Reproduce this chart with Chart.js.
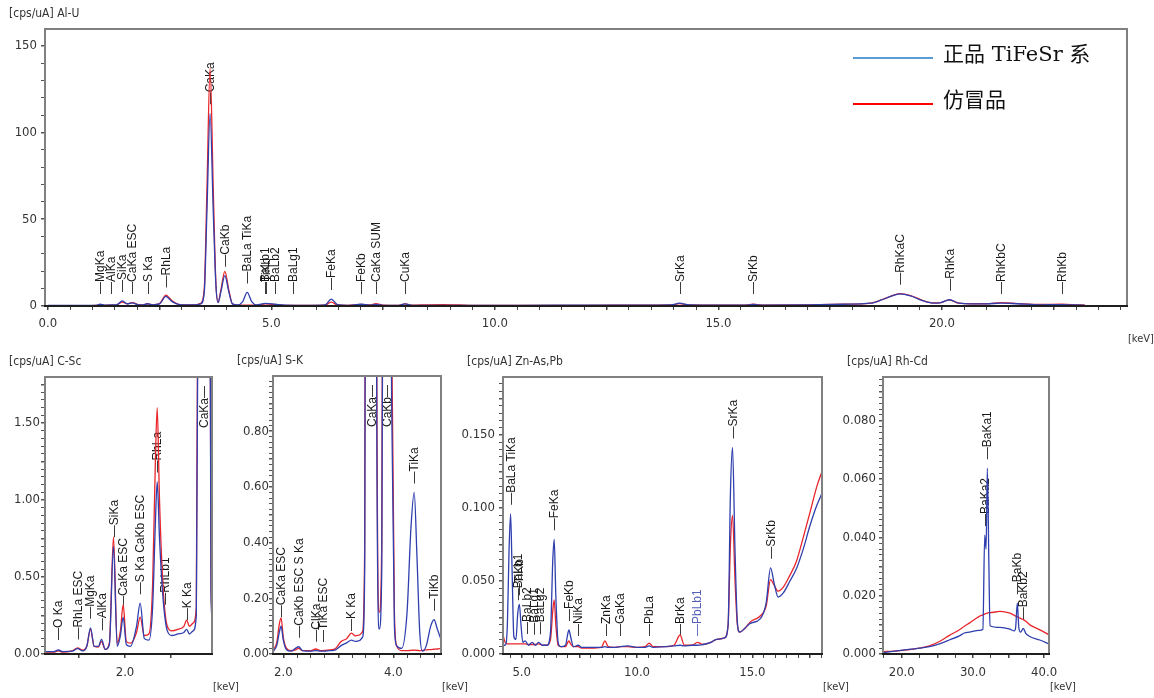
<!DOCTYPE html>
<html><head><meta charset="utf-8">
<script src="https://cdn.jsdelivr.net/npm/chart.js@4.4.1/dist/chart.umd.min.js"></script>
<style>
html,body{margin:0;padding:0;background:#fff;width:1154px;height:698px;overflow:hidden;position:relative;}
canvas{position:absolute;}
</style></head><body>
<script>
// ---------------- DATA ----------------
const seriesNames = ['正品 TiFeSr 系', '仿冒品'];
const panelTitles = ['[cps/uA] Al-U', '[cps/uA] C-Sc', '[cps/uA] S-K', '[cps/uA] Zn-As,Pb', '[cps/uA] Rh-Cd'];
const unitLabel = '[keV]';

// Al-U (overview)
const alEnergy = [0.00,0.50,0.95,1.08,1.17,1.27,1.41,1.53,1.67,1.78,1.89,2.02,2.12,2.23,2.35,2.50,2.64,2.78,2.92,3.10,3.30,3.42,3.50,3.56,3.63,3.70,3.76,3.81,3.87,3.96,4.05,4.13,4.25,4.36,4.46,4.56,4.67,4.87,5.09,5.30,5.90,6.20,6.34,6.48,6.70,7.01,7.20,7.34,7.50,7.85,7.99,8.15,8.50,8.85,9.20,9.50,10.50,12.00,13.50,13.95,14.13,14.35,15.00,15.60,15.78,15.98,17.00,17.80,18.40,18.65,18.85,19.06,19.30,19.55,19.80,19.98,20.17,20.38,20.70,21.00,21.32,21.70,22.20,22.68,23.00,23.20];
const alBlue = [0.3,0.3,0.35,0.4,1.0,0.45,0.6,0.6,2.9,1.2,1.8,0.7,0.6,1.3,0.7,1.2,5.5,2.5,0.9,0.6,0.6,1.2,8,55,111,55,12,2,8,17.5,8,1.2,0.6,2.5,7.8,2.5,0.6,1.5,1.0,0.5,0.4,0.6,4.0,0.8,0.4,1.0,0.5,0.9,0.4,0.4,1.2,0.4,0.3,0.4,0.3,0.4,0.4,0.45,0.5,0.6,1.6,0.6,0.5,0.5,0.9,0.5,0.6,1.0,1.6,3.5,5.5,7.0,5.8,3.2,1.7,2.0,3.6,1.6,1.2,1.2,1.7,1.3,0.7,0.8,0.6,0.4];
const alRed = [0.2,0.2,0.25,0.3,0.8,0.4,0.55,0.5,2.3,1.2,2.0,0.8,0.6,1.3,0.7,1.4,6.3,3.0,1.0,0.6,0.6,1.5,10,68,137,68,13,2.3,9,20,9,1.2,0.5,0.5,0.5,0.5,0.5,1.2,0.8,0.4,0.35,0.5,2.2,0.6,0.35,0.9,0.6,1.3,0.5,0.4,1.2,0.5,0.7,0.8,0.6,0.3,0.35,0.4,0.5,0.6,1.4,0.6,0.5,0.5,1.0,0.5,0.6,1.0,1.7,3.6,5.6,7.1,6.0,3.4,1.8,2.0,3.5,1.6,1.3,1.3,1.9,1.4,0.9,1.0,0.7,0.5];
const alPeakNames = ['MgKa','AlKa','SiKa','CaKa ESC','S Ka','RhLa','CaKa','CaKb','BaLa TiKa','BaLb1','TiKb','BaLb2','BaLg1','FeKa','FeKb','CaKa SUM','CuKa','SrKa','SrKb','RhKaC','RhKa','RhKbC','RhKb'];
const alPeakEnergy = [1.17,1.41,1.67,1.89,2.23,2.64,3.63,3.96,4.46,4.85,4.88,5.09,5.49,6.34,7.01,7.34,7.99,14.13,15.78,19.06,20.17,21.32,22.68];

// C-Sc
const cscEnergy = [0.26,0.45,0.55,0.65,0.85,0.97,1.08,1.17,1.25,1.33,1.42,1.49,1.57,1.66,1.75,1.83,1.90,1.96,2.03,2.12,2.25,2.33,2.42,2.52,2.60,2.66,2.70,2.75,2.83,2.92,3.02,3.15,3.28,3.34,3.40,3.48,3.55,3.60,3.66,3.72,3.78,3.84,3.87,3.89];
const cscBlue = [0.015,0.015,0.026,0.015,0.018,0.035,0.02,0.05,0.17,0.05,0.05,0.095,0.03,0.06,0.70,0.05,0.12,0.24,0.06,0.05,0.18,0.33,0.10,0.09,0.30,0.85,1.12,0.75,0.35,0.15,0.12,0.13,0.14,0.16,0.13,0.15,0.25,3.0,15,20,12,3.0,0.4,0.24];
const cscRed = [0.012,0.012,0.02,0.012,0.02,0.04,0.025,0.05,0.16,0.05,0.045,0.08,0.03,0.07,0.76,0.07,0.15,0.32,0.08,0.07,0.14,0.24,0.12,0.13,0.45,1.25,1.60,1.00,0.42,0.18,0.15,0.16,0.18,0.22,0.18,0.20,0.30,3.5,18,24,14,3.5,0.45,0.28];
const cscPeakNames = ['O Ka','RhLa ESC','MgKa','AlKa','SiKa','CaKa ESC','S Ka CaKb ESC','RhLa','RhLb1','K Ka','CaKa'];
const cscPeakEnergy = [0.55,0.97,1.25,1.49,1.75,1.96,2.33,2.70,2.87,3.34,3.72];

// S-K
const skEnergy = [1.81,1.88,1.93,1.96,2.00,2.06,2.14,2.22,2.28,2.35,2.50,2.59,2.68,2.85,2.95,3.05,3.15,3.24,3.31,3.38,3.44,3.48,3.52,3.60,3.66,3.70,3.745,3.79,3.83,3.90,3.97,4.02,4.06,4.15,4.25,4.32,4.38,4.43,4.48,4.53,4.60,4.68,4.74,4.80,4.87];
const skBlue = [0.008,0.03,0.08,0.10,0.05,0.015,0.01,0.02,0.026,0.012,0.01,0.012,0.01,0.012,0.015,0.03,0.04,0.05,0.045,0.048,0.06,0.3,4,9,4,0.8,0.09,0.3,2.5,2.8,0.9,0.1,0.03,0.02,0.15,0.45,0.58,0.35,0.08,0.01,0.03,0.10,0.123,0.09,0.05];
const skRed = [0.014,0.04,0.11,0.13,0.06,0.02,0.012,0.015,0.02,0.012,0.012,0.018,0.012,0.015,0.02,0.045,0.055,0.075,0.065,0.068,0.08,0.4,5,11,5,1.0,0.15,0.4,3,3.3,1.2,0.15,0.03,0.012,0.012,0.013,0.014,0.013,0.012,0.013,0.015,0.016,0.017,0.018,0.02];
const skPeakNames = ['CaKa ESC','CaKb ESC S Ka','ClKa','TiKa ESC','K Ka','CaKa','CaKb','TiKa','TiKb'];
const skPeakEnergy = [1.96,2.28,2.59,2.72,3.24,3.61,3.89,4.38,4.74];

// Zn-As,Pb
const znEnergy = [4.19,4.28,4.38,4.45,4.52,4.58,4.66,4.75,4.83,4.90,4.97,5.05,5.15,5.30,5.46,5.60,5.73,5.90,6.10,6.25,6.35,6.41,6.48,6.58,6.70,6.90,7.00,7.05,7.12,7.25,7.45,7.60,8.00,8.45,8.61,8.75,9.00,9.26,9.60,10.00,10.35,10.53,10.70,11.20,11.60,11.87,12.05,12.40,12.62,12.85,13.20,13.45,13.80,13.95,14.05,14.14,14.25,14.35,14.45,14.70,14.91,15.34,15.60,15.79,15.95,16.12,16.35,16.63,16.90,17.21,17.50,17.80,18.02];
const znBlue = [0.006,0.006,0.02,0.07,0.096,0.06,0.012,0.01,0.028,0.034,0.02,0.008,0.009,0.006,0.008,0.006,0.008,0.006,0.006,0.015,0.065,0.0785,0.04,0.008,0.005,0.006,0.014,0.0165,0.012,0.005,0.006,0.0045,0.0045,0.0045,0.005,0.0045,0.0045,0.005,0.0055,0.0045,0.0045,0.0055,0.0045,0.005,0.0055,0.006,0.0055,0.006,0.006,0.0065,0.008,0.010,0.011,0.02,0.11,0.1415,0.07,0.022,0.015,0.018,0.021,0.024,0.035,0.059,0.048,0.039,0.042,0.050,0.058,0.072,0.088,0.102,0.110];
const znRed = [0.013,0.008,0.007,0.007,0.007,0.007,0.007,0.007,0.007,0.007,0.007,0.007,0.007,0.0065,0.0065,0.0065,0.007,0.006,0.006,0.01,0.03,0.037,0.02,0.006,0.005,0.005,0.008,0.009,0.007,0.005,0.005,0.004,0.004,0.0045,0.009,0.005,0.0045,0.005,0.005,0.0045,0.005,0.0075,0.005,0.005,0.006,0.013,0.006,0.006,0.008,0.0065,0.008,0.010,0.011,0.02,0.075,0.095,0.05,0.02,0.015,0.018,0.022,0.026,0.033,0.051,0.047,0.043,0.046,0.054,0.063,0.080,0.097,0.115,0.125];
const znPeakNames = ['BaLa TiKa','BaLb1','TiKb','BaLb2','BaLg1','BaLg2','FeKa','FeKb','NiKa','ZnKa','GaKa','PbLa','BrKa','PbLb1','SrKa','SrKb'];
const znPeakEnergy = [4.52,4.86,4.90,5.22,5.53,5.79,6.41,7.05,7.45,8.65,9.26,10.53,11.87,12.62,14.14,15.79];

// Rh-Cd
const rhEnergy = [17.37,19.0,20.7,22.5,23.9,25.3,26.7,28.1,28.8,29.5,30.9,31.4,31.66,31.85,32.03,32.25,32.4,33.8,35.2,35.8,36.0,36.24,36.45,36.7,37.08,37.4,38.0,39.4,40.69];
const rhBlue = [0.0005,0.001,0.0015,0.002,0.0025,0.0035,0.0048,0.0062,0.0072,0.0075,0.0081,0.0085,0.0408,0.036,0.0637,0.03,0.0097,0.0091,0.0085,0.0079,0.009,0.0174,0.009,0.0075,0.0088,0.0072,0.006,0.0048,0.0034];
const rhRed = [0.0008,0.001,0.0014,0.002,0.0028,0.0043,0.0064,0.0083,0.0095,0.0106,0.0129,0.0134,0.0137,0.0139,0.014,0.0142,0.0142,0.0146,0.014,0.0133,0.013,0.0128,0.0125,0.0122,0.0118,0.0113,0.01,0.0083,0.0066];
const rhPeakNames = ['BaKa2','BaKa1','BaKb','BaKb2'];
const rhPeakEnergy = [31.66,32.03,36.24,37.08];

// ---------------- STYLE / LAYOUT ----------------
const BLUE = '#2f3fae', RED = '#e8262b';
const LEG_BLUE = '#5b9bd5', LEG_RED = '#ff0000';
const NARROW = '"Liberation Sans Narrow","DejaVu Sans Condensed","Liberation Sans",sans-serif';
const LABELFONT = '12px "Liberation Sans", Arial, sans-serif';
const LEGFONT = '21px "DejaVu Serif","Liberation Serif","Noto Sans CJK SC",serif';
const specialLabelColor = {PbLb1: '#5560b8'};

const PANELS = [
  {title: panelTitles[0], energy: alEnergy, blue: alBlue, red: alRed, names: alPeakNames, pe: alPeakEnergy,
   canvas: [0, 0, 1154, 345], area: [45, 29, 1127, 306], xr: [-0.063, 24.14], yr: [0, 159.6],
   xStep: 0.5, xLab: 5, xDec: 1, yStep: 10, yLab: 50, yDec: 0, yPad: 4, xPad: 6, floor: 12, legend: true},
  {title: panelTitles[1], energy: cscEnergy, blue: cscBlue, red: cscRed, names: cscPeakNames, pe: cscPeakEnergy,
   canvas: [0, 345, 245, 353], area: [45, 377, 212, 654], xr: [0.261, 3.891], yr: [0, 1.799],
   xStep: 1, xLab: 2, xDec: 1, yStep: 0.05, yLab: 0.5, yDec: 2, yPad: 1, xPad: 7, floor: 14},
  {title: panelTitles[2], energy: skEnergy, blue: skBlue, red: skRed, names: skPeakNames, pe: skPeakEnergy,
   canvas: [230, 345, 245, 353], area: [273, 376, 441, 654], xr: [1.813, 4.867], yr: [0, 0.998],
   xStep: 0.25, xLab: 2, xDec: 1, yStep: 0.02, yLab: 0.2, yDec: 2, yPad: 0, xPad: 7, floor: 12},
  {title: panelTitles[3], energy: znEnergy, blue: znBlue, red: znRed, names: znPeakNames, pe: znPeakEnergy,
   canvas: [460, 345, 400, 353], area: [503, 377, 822, 654], xr: [4.19, 18.02], yr: [0, 0.1897],
   xStep: 0.5, xLab: 5, xDec: 1, yStep: 0.005, yLab: 0.05, yDec: 3, yPad: 4, xPad: 7, floor: 18},
  {title: panelTitles[4], energy: rhEnergy, blue: rhBlue, red: rhRed, names: rhPeakNames, pe: rhPeakEnergy,
   canvas: [840, 345, 314, 353], area: [883, 377, 1049, 654], xr: [17.37, 40.69], yr: [0, 0.095],
   xStep: 2.5, xLab: 10, xDec: 1, yStep: 0.002, yLab: 0.02, yDec: 3, yPad: 3, xPad: 7, floor: 12}
];

function isMult(v, s) { const r = v / s; return Math.abs(r - Math.round(r)) < 1e-6; }
function makeTicks(step) {
  return function (scale) {
    const t = [];
    for (let k = Math.ceil(scale.min / step - 1e-7); k * step <= scale.max + 1e-9; k++) {
      t.push({value: Math.round(k * step * 1e6) / 1e6});
    }
    scale.ticks = t;
  };
}
function interp(xs, ys, e) {
  if (e <= xs[0]) return ys[0];
  for (let i = 1; i < xs.length; i++) {
    if (e <= xs[i]) { const t = (e - xs[i - 1]) / (xs[i] - xs[i - 1]); return ys[i - 1] + t * (ys[i] - ys[i - 1]); }
  }
  return ys[ys.length - 1];
}

function decor(P) {
  return {
    id: 'decor',
    beforeDatasetsDraw(chart) {
      const {ctx, chartArea: a, scales: {x: xs, y: ys}} = chart;
      ctx.save();
      ctx.font = LABELFONT;
      ctx.textBaseline = 'middle';
      P.names.forEach((name, i) => {
        const e = P.pe[i];
        const px = xs.getPixelForValue(e);
        if (px < a.left || px > a.right) return;
        const v = interp(P.energy, P.blue, e);
        const py = ys.getPixelForValue(v);
        let txt = '\u2014' + name;
        const w = ctx.measureText(txt).width;
        let anchor = Math.min(py - 9, a.bottom - P.floor);
        let reversed = false;
        if (v > ys.max || anchor - w < a.top) { reversed = true; txt = name + '\u2014'; anchor = Math.max(py, a.top) + 9; }
        ctx.fillStyle = specialLabelColor[name] || '#1a1a1a';
        ctx.save();
        ctx.translate(Math.round(px) + 0.5, anchor);
        ctx.rotate(-Math.PI / 2);
        ctx.textAlign = reversed ? 'right' : 'left';
        ctx.fillText(txt, 0, 0);
        ctx.restore();
      });
      ctx.restore();
    },
    afterDraw(chart) {
      const {ctx, chartArea: a} = chart;
      ctx.save();
      ctx.strokeStyle = '#808080'; ctx.lineWidth = 2;
      ctx.strokeRect(a.left, a.top, a.right - a.left, a.bottom - a.top);
      ctx.strokeStyle = '#1e1e1e';
      ctx.beginPath(); ctx.moveTo(a.left - 1, a.bottom); ctx.lineTo(a.right + 1, a.bottom); ctx.stroke();
      ctx.fillStyle = '#333';
      ctx.font = '12px ' + NARROW;
      ctx.textBaseline = 'middle'; ctx.textAlign = 'left';
      ctx.fillText(P.title, a.left - 36, a.top - 15);
      ctx.font = '11px ' + NARROW;
      ctx.fillText(unitLabel, a.right + 1, a.bottom + 33);
      if (P.legend) {
        const x0 = a.right - 274, x1 = a.right - 194;
        const rows = [[LEG_BLUE, a.top + 29], [LEG_RED, a.top + 75]];
        rows.forEach(([c, y], i) => {
          ctx.strokeStyle = c; ctx.lineWidth = 2;
          ctx.beginPath(); ctx.moveTo(x0, y); ctx.lineTo(x1, y); ctx.stroke();
          ctx.fillStyle = '#111'; ctx.font = LEGFONT;
          ctx.fillText(seriesNames[i], x1 + 10, y - 2);
        });
      }
      ctx.restore();
    }
  };
}

PANELS.forEach(P => {
  const [cx, cy, cw, ch] = P.canvas;
  const [al, at, ar, ab] = P.area;
  const cv = document.createElement('canvas');
  cv.width = cw; cv.height = ch;
  cv.style.left = cx + 'px'; cv.style.top = cy + 'px';
  cv.style.width = cw + 'px'; cv.style.height = ch + 'px';
  document.body.appendChild(cv);
  const mk = (ys, c) => ({
    data: P.energy.map((e, i) => ({x: e, y: ys[i]})),
    borderColor: c, borderWidth: 1.3, pointRadius: 0, fill: false,
    cubicInterpolationMode: 'monotone'
  });
  const tickFont = {family: NARROW, size: 13};
  new Chart(cv, {
    type: 'line',
    data: {datasets: [Object.assign({label: seriesNames[0]}, mk(P.blue, BLUE)), Object.assign({label: seriesNames[1]}, mk(P.red, RED))]},
    options: {
      responsive: false, animation: false, events: [], devicePixelRatio: 1,
      layout: {padding: {left: 0, top: at - cy, right: cx + cw - ar, bottom: 0}},
      plugins: {legend: {display: false}, tooltip: {enabled: false}, title: {display: false}},
      scales: {
        x: {
          type: 'linear', min: P.xr[0], max: P.xr[1],
          afterFit: s => { s.height = cy + ch - ab; },
          afterBuildTicks: makeTicks(P.xStep),
          ticks: {autoSkip: false, maxRotation: 0, minRotation: 0, padding: P.xPad, color: '#333', font: tickFont,
                  callback: v => isMult(v, P.xLab) ? v.toFixed(P.xDec) : ''},
          grid: {display: true, drawOnChartArea: false, drawTicks: true, tickLength: 4, color: '#444',
                 lineWidth: c => (c.tick && isMult(c.tick.value, P.xLab / 2)) ? 1.5 : 1},
          border: {display: true, color: '#1e1e1e', width: 2}
        },
        y: {
          type: 'linear', min: P.yr[0], max: P.yr[1],
          afterFit: s => { s.width = al - cx; },
          afterBuildTicks: makeTicks(P.yStep),
          ticks: {autoSkip: false, padding: P.yPad, color: '#333', font: tickFont,
                  callback: v => isMult(v, P.yLab) ? v.toFixed(P.yDec) : ''},
          grid: {display: true, drawOnChartArea: false, drawTicks: true, tickLength: 4, color: '#555',
                 lineWidth: c => (c.tick && isMult(c.tick.value, P.yLab / 2)) ? 1.5 : 1},
          border: {display: true, color: '#808080', width: 2}
        }
      }
    },
    plugins: [decor(P)]
  });
});
</script>
</body></html>
